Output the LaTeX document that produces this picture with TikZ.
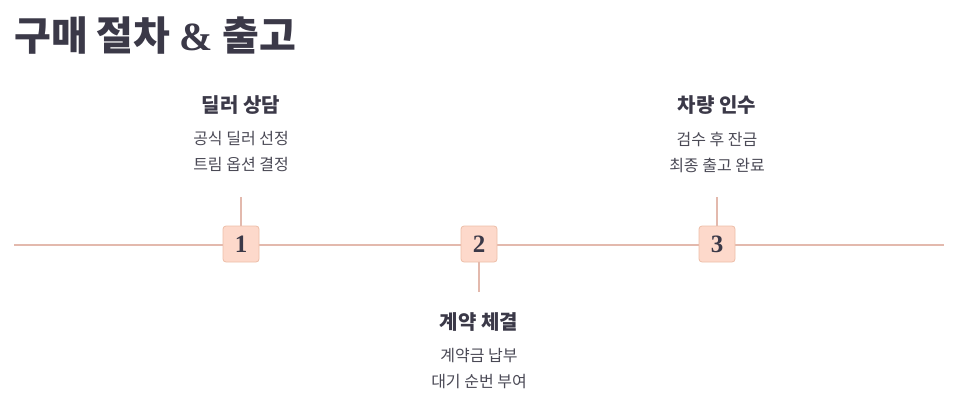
\documentclass[tikz,border=0pt]{standalone}
\usepackage{fontspec}
\setmainfont{Liberation Serif}
\newfontfamily\kr{Noto Sans CJK KR}
\definecolor{inkdark}{HTML}{3B3948}
\definecolor{inkgray}{HTML}{4A4955}
\definecolor{rule}{HTML}{E3B9AD}
\definecolor{boxfill}{HTML}{FDD9CB}
\definecolor{boxedge}{HTML}{EDBEA8}
\begin{document}
\begin{tikzpicture}[x=1pt,y=-1pt,
  axis/.style={draw=rule,line width=1.3pt},
  tick/.style={draw=rule,line width=1.3pt},
  stepbox/.style={draw=boxedge,fill=boxfill,rounded corners=3pt,minimum size=36pt,inner sep=0pt,
    font=\fontsize{25}{25}\selectfont\bfseries,text=inkdark,line width=0.8pt},
  head/.style={font=\kr\fontsize{20}{20}\selectfont\bfseries,text=inkdark},
  sub/.style={font=\kr\fontsize{16}{16}\selectfont,text=inkgray}]
\useasboundingbox (0,0) rectangle (957,406);
\pgfmathsetmacro{\kxstep}{238}
\pgfmathsetmacro{\kline}{245}
\node[anchor=base west,inner sep=0pt,text=inkdark,font=\kr\fontsize{40}{40}\selectfont\bfseries] (title) at (14,51) {구매 절차 {\rmfamily\&} 출고};
\coordinate (lstart) at (14,\kline);
\coordinate (lend) at (944,\kline);
\draw[axis] (lstart) -- (lend);
% ticks first, boxes on top
\foreach \kx/\ky in {1/197,2/292,3/197}{\coordinate (t\kx) at (3+\kx*\kxstep,\ky);}
\foreach \kx in {1,2,3}{\node[stepbox] (s\kx) at (3+\kx*\kxstep,\kline-1) {\kx};}
\foreach \kx in {1,3}{\draw[tick] (t\kx) -- (s\kx.north);}
\draw[tick] (t2) -- (s2.south);
% texts
\foreach \kx/\ky/\ka/\kb/\kc in {1/105/딜러 상담/공식 딜러 선정/트림 옵션 결정,
  2/322/계약 체결/계약금 납부/대기 순번 부여,
  3/105/차량 인수/검수 후 잔금/최종 출고 완료}{
  \node[head] (h\kx) at (3+\kx*\kxstep,\ky) {\ka};
  \node[sub] (a\kx) at (3+\kx*\kxstep,\ky+34) {\kb};
  \node[sub] (b\kx) at (3+\kx*\kxstep,\ky+60) {\kc};
}
\end{tikzpicture}
\end{document}
